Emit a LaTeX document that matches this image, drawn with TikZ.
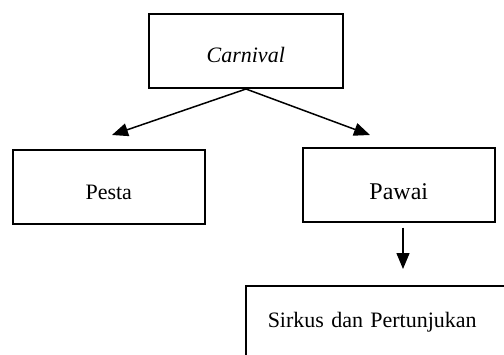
\documentclass[tikz,border=0pt]{standalone}
\usepackage{fontspec}
\setmainfont{Liberation Serif}
\usetikzlibrary{arrows.meta}
\begin{document}
\begin{tikzpicture}[x=1pt,y=-1pt,
  box/.style={draw,line width=1.5pt,inner sep=0pt,anchor=north west,font=\fontsize{22}{26}\selectfont},
  link/.style={line width=1.5pt,-{Triangle[length=16pt,width=13pt]}}]
  \useasboundingbox (0,0) rectangle (504,354);
  \begin{scope}
    \clip (0,0) rectangle (504,354);
    \node[box,minimum width=194pt,text height=49pt,text depth=25pt] (carnival) at (148,13) {\itshape Carnival};
    \node[box,minimum width=192pt,text height=50pt,text depth=24pt] (pesta) at (12,149) {Pesta};
    \node[box,text width=230pt,inner xsep=22pt,align=left,text height=42pt,text depth=40pt] (sirkus) at (245,285)
      {Sirkus dan Pertunjukan};
    \node[box,minimum width=192pt,text height=52pt,text depth=22pt,font=\fontsize{24}{28}\selectfont] (pawai) at (302,147) {Pawai};
  \end{scope}
  \coordinate (split) at (246,89);
  \coordinate (lefttip) at (112,135);
  \coordinate (righttip) at (370,135);
  \coordinate (downtip) at (403,269);
  \draw[link] (split) -- (lefttip);
  \draw[link] (split) -- (righttip);
  \draw[link] (pawai.south -| downtip) ++(0,5) -- (downtip);
\end{tikzpicture}
\end{document}
